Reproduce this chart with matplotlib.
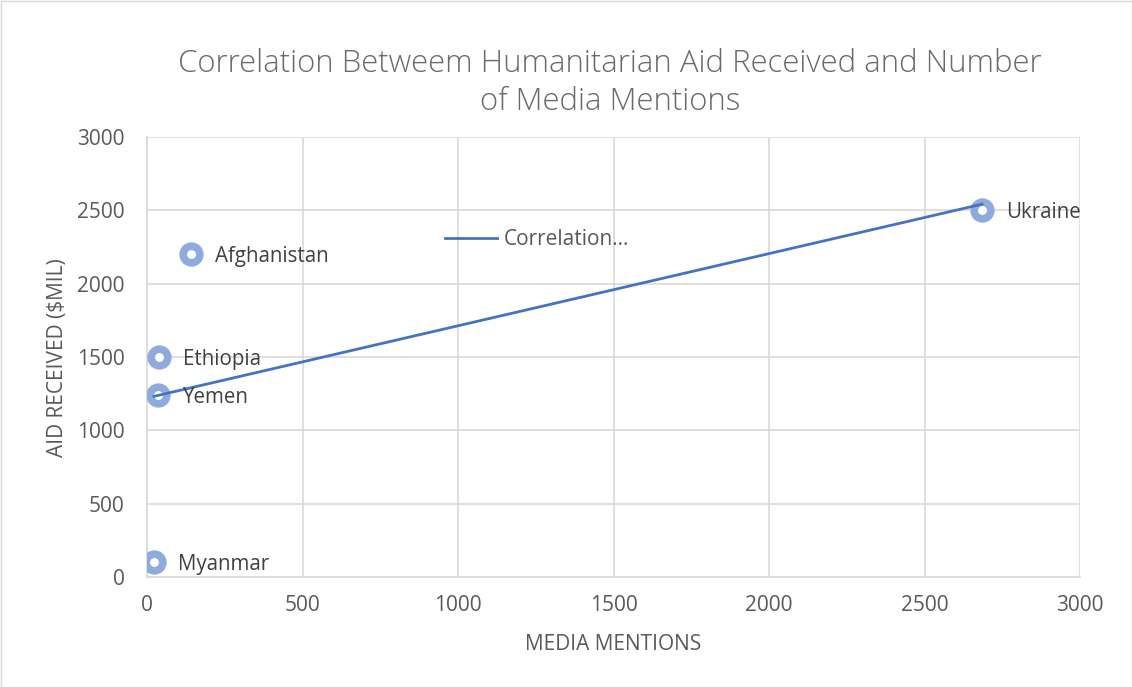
import numpy as np
import matplotlib
matplotlib.use("Agg")
import matplotlib.pyplot as plt
from matplotlib.patches import Rectangle

countries = ["Ukraine", "Afghanistan", "Ethiopia", "Yemen", "Myanmar"]
media_mentions = [2685, 141, 39, 35, 23]
aid_received = [2500, 2200, 1500, 1240, 102]
x_ticks = [0, 500, 1000, 1500, 2000, 2500, 3000]
y_ticks = [0, 500, 1000, 1500, 2000, 2500, 3000]

plt.rcParams['font.family'] = ['Open Sans', 'DejaVu Sans']

W, H = 1132, 687
fig = plt.figure(figsize=(W/100, H/100), dpi=100)
ax = fig.add_axes([147/W, 1-577/H, (1080-147)/W, (577-137)/H])

x = np.array(media_mentions, dtype=float)
y = np.array(aid_received, dtype=float)
m, b = np.polyfit(x, y, 1)
xs = np.array([x.min(), x.max()])
ax.scatter(x, y, s=144, facecolor='white', edgecolor='#8FAADC', linewidth=5.5, zorder=3)
ax.plot(xs, m*xs + b, color='#4472C4', lw=2.0, zorder=4, label='Correlation…')

for cx, cy, name in zip(x, y, countries):
    ax.annotate(name, (cx, cy), xytext=(24, -2), textcoords='offset pixels',
                va='center', ha='left', fontsize=14.8, color='#404040', zorder=5)

ax.set_xlim(0, 3000)
ax.set_ylim(0, 3000)
ax.set_xticks(x_ticks)
ax.set_yticks(y_ticks)
ax.grid(True, color='#D9D9D9', lw=1.2)
ax.set_axisbelow(True)
for s in ax.spines.values():
    s.set_visible(False)
for side in ('left', 'bottom'):
    ax.spines[side].set_visible(True)
    ax.spines[side].set_color('#D9D9D9')
    ax.spines[side].set_linewidth(1.2)
ax.tick_params(length=0, labelsize=15, labelcolor='#595959')
ax.tick_params(axis='x', pad=13)
ax.tick_params(axis='y', pad=16)

xl = ax.set_xlabel('MEDIA MENTIONS', fontsize=15, color='#595959')
yl = ax.set_ylabel(r'AID RECEIVED (\$MIL)', fontsize=15, color='#595959')
ax.xaxis.set_label_coords(613.5/W, 1-645/H, transform=fig.transFigure)
ax.yaxis.set_label_coords(57/W, 1-358/H, transform=fig.transFigure)
xl.set_va('center')
yl.set_va('center')

fig.text(610/W, 1-83/H,
         'Correlation Betweem Humanitarian Aid Received and Number\nof Media Mentions',
         ha='center', va='center', fontsize=22.4, color='#6A6A6A', fontweight='light',
         linespacing=1.22)

leg = ax.legend(loc='center left', bbox_to_anchor=(445/W, 1-240/H), bbox_transform=fig.transFigure,
                frameon=False, fontsize=15, handlelength=2.5, handletextpad=0.3,
                borderpad=0, borderaxespad=0)
for t in leg.get_texts():
    t.set_color('#595959')

fig.patches.append(Rectangle((0.5/W, 0.5/H), 1-1/W, 1-1/H, transform=fig.transFigure,
                             fill=False, edgecolor='#D9D9D9', lw=1))

fig.savefig('out.png', dpi=100, facecolor='white')
